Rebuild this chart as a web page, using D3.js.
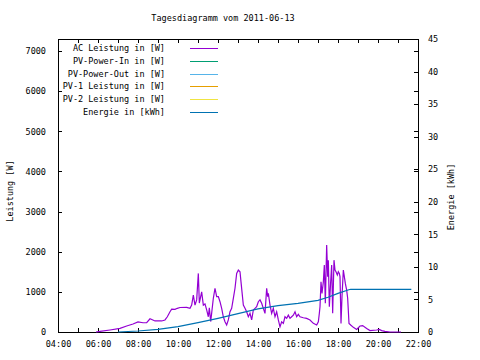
<!DOCTYPE html>
<html><head><meta charset="utf-8">
<script src="https://cdn.jsdelivr.net/npm/d3@7"></script>
<style>
html,body{margin:0;padding:0;background:#fff;}
svg text{font-family:"DejaVu Sans Mono","Liberation Mono",monospace;font-size:8.5px;fill:#000;}
</style></head>
<body><svg id="c" width="480" height="360"></svg>
<script>
const title = "Tagesdiagramm vom 2011-06-13";
const seriesNames = ["AC Leistung in [W]", "PV-Power-In in [W]", "PV-Power-Out in [W]", "PV-1 Leistung in [W]", "PV-2 Leistung in [W]", "Energie in [kWh]"];
const seriesColors = ["#9400d3", "#009e73", "#56b4e9", "#e69f00", "#f0e442", "#0072b2"];
const yTicks = [0, 1000, 2000, 3000, 4000, 5000, 6000, 7000];
const y2Ticks = [0, 5, 10, 15, 20, 25, 30, 35, 40, 45];
const xTickHours = [4, 6, 8, 10, 12, 14, 16, 18, 20, 22];

const acTimes = ["05:54","06:06","06:36","07:06","07:26","07:45","08:00","08:15","08:26","08:36","08:51","09:11","09:21","09:28","09:36","09:41","09:51","09:58","10:06","10:26","10:36","10:41","10:46","10:51","10:56","11:01","11:04","11:11","11:16","11:21","11:26","11:31","11:34","11:38","11:41","11:46","11:51","11:56","12:01","12:06","12:11","12:16","12:21","12:26","12:31","12:36","12:41","12:46","12:51","12:56","13:01","13:06","13:09","13:12","13:16","13:21","13:26","13:31","13:36","13:41","13:46","13:51","13:56","14:01","14:06","14:11","14:16","14:21","14:26","14:29","14:31","14:36","14:41","14:46","14:51","14:56","15:01","15:06","15:11","15:16","15:21","15:26","15:31","15:36","15:41","15:46","15:51","15:56","16:01","16:06","16:16","16:26","16:36","16:46","16:56","17:01","17:04","17:06","17:09","17:12","17:16","17:19","17:22","17:26","17:29","17:31","17:34","17:38","17:41","17:44","17:48","17:51","17:54","17:58","18:01","18:04","18:06","18:09","18:12","18:16","18:19","18:22","18:26","18:29","18:33","18:38","18:46","18:56","19:06","19:14","19:26","19:36","19:56","20:04","20:11","20:21","20:36","21:01","21:09"];
const acValues = [0,15,50,90,150,200,250,230,235,330,275,275,300,380,505,570,565,590,610,615,590,670,920,670,800,1460,720,1000,670,700,550,380,600,260,470,840,1090,880,880,755,590,380,256,175,300,505,590,840,1090,1460,1545,1500,1250,1000,670,590,505,380,465,300,550,590,630,755,800,715,590,465,1090,880,965,670,465,590,380,505,300,130,255,215,380,340,420,340,380,420,505,380,440,380,355,340,300,215,175,255,465,630,1250,960,1250,1670,715,2165,1380,1790,630,1250,1670,465,1790,1545,1500,1420,1500,1460,1380,215,880,1545,1380,1210,1045,840,215,175,115,65,150,160,85,35,50,65,35,15,0,0,0];

const energyTimes = ["07:00","08:00","09:00","10:00","11:00","12:00","13:00","14:00","15:00","16:00","17:00","17:30","18:00","18:30","18:38","21:40"];
const energyValues = [0,0.15,0.41,0.82,1.43,2.1,2.81,3.55,4.04,4.4,4.87,5.33,5.94,6.45,6.56,6.56];

const toH = s => { const [h, m] = s.split(":").map(Number); return h + m / 60; };
const fmtH = h => String(h).padStart(2, "0") + ":00";

const L = 58, R = 418, T = 39, B = 332;
const svg = d3.select("#c");
const x = d3.scaleLinear().domain([4, 22]).range([L, R]);
const y = d3.scaleLinear().domain([0, 7300]).range([B, T]);
const y2 = d3.scaleLinear().domain([0, 45]).range([B, T]);

// Title
svg.append("text").attr("x", 223).attr("y", 21).attr("text-anchor", "middle").text(title);

// Axes
const hours = d3.range(4, 23);
const ax = svg.append("g").attr("shape-rendering", "crispEdges");
ax.append("g").attr("transform", `translate(0,${B})`)
  .call(d3.axisBottom(x).tickValues(hours).tickSize(-4).tickPadding(9)
    .tickFormat(h => xTickHours.includes(h) ? fmtH(h) : ""));
ax.append("g").attr("transform", `translate(0,${T})`)
  .call(d3.axisTop(x).tickValues(hours).tickSize(-4).tickFormat(""));
ax.append("g").attr("transform", `translate(${L},0)`)
  .call(d3.axisLeft(y).tickValues(yTicks).tickSize(-4).tickPadding(12).tickFormat(d3.format("d")));
ax.append("g").attr("transform", `translate(${R},0)`)
  .call(d3.axisRight(y).tickValues(yTicks).tickSize(-4).tickFormat(""));
ax.append("g").attr("transform", `translate(${R},0)`)
  .call(d3.axisRight(y2).tickValues(y2Ticks).tickSize(-4).tickPadding(10).tickFormat(d3.format("d")));
ax.selectAll(".domain").remove();
ax.selectAll("text").attr("font-family", null).attr("font-size", null);
ax.selectAll(".tick line").attr("stroke", "#000");
ax.append("rect").attr("x", L + 0.5).attr("y", T + 0.5).attr("width", R - L).attr("height", B - T)
  .attr("fill", "none").attr("stroke", "#000");

// Axis titles
svg.append("text").attr("transform", "translate(13,191) rotate(-90)").attr("text-anchor", "middle").text("Leistung [W]");
svg.append("text").attr("transform", "translate(454,197) rotate(-90)").attr("text-anchor", "middle").text("Energie [kWh]");

// Data lines
const acData = acTimes.map((t, i) => [toH(t), acValues[i]]);
const enData = energyTimes.map((t, i) => [toH(t), energyValues[i]]);
svg.append("path").datum(acData).attr("fill", "none").attr("stroke", seriesColors[0]).attr("stroke-width", 1.2)
  .attr("d", d3.line().x(d => x(d[0])).y(d => y(d[1])));
svg.append("path").datum(enData).attr("fill", "none").attr("stroke", seriesColors[5]).attr("stroke-width", 1.2)
  .attr("d", d3.line().x(d => x(d[0])).y(d => y2(d[1])));

// Legend
const lg = svg.append("g");
seriesNames.forEach((n, i) => {
  const yy = 48 + i * 12.8;
  lg.append("text").attr("x", 165).attr("y", yy + 3).attr("text-anchor", "end").text(n);
  lg.append("line").attr("x1", 190).attr("x2", 218).attr("y1", Math.round(yy) + 0.5).attr("y2", Math.round(yy) + 0.5)
    .attr("stroke", seriesColors[i]).attr("stroke-width", 1).attr("shape-rendering", "crispEdges");
});
</script></body></html>
